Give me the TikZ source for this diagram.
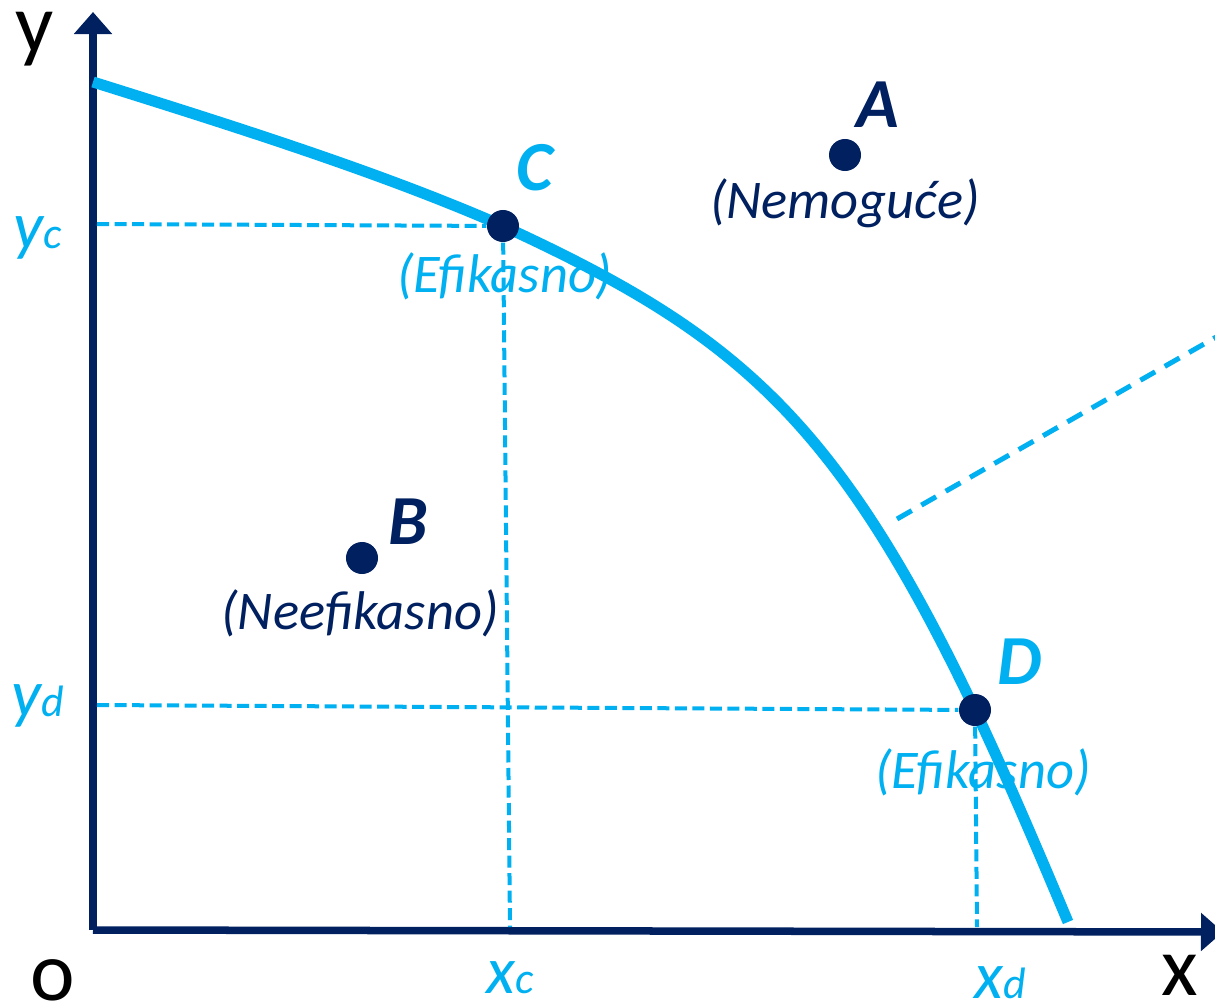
\documentclass[tikz,border=0pt]{standalone}
\usepackage{fontspec}
\setmainfont{Carlito}
\usepackage{tikz}
\usetikzlibrary{arrows.meta,positioning}
\definecolor{pnavy}{HTML}{002060}
\definecolor{pblue}{HTML}{00B0F0}
\tikzset{
  >={Triangle[width=3.7mm,length=2.2mm]},
  paxis/.style={pnavy, line width=0.75mm, ->},
  pcurve/.style={pblue, line width=1.1mm},
  pguide/.style={pblue, line width=0.4mm, dash pattern=on 1.2mm off 0.55mm},
  pslope/.style={pblue, line width=0.5mm, dash pattern=on 1.7mm off 1.1mm},
  pdot/.style={circle, fill=pnavy, minimum size=3.2mm, inner sep=0pt},
  pname/.style={font=\fontsize{20}{20}\selectfont\bfseries\itshape, inner sep=0pt},
  pnote/.style={font=\fontsize{15.5}{16}\selectfont\itshape, inner sep=0pt},
  pax/.style={font=\fontsize{24}{24}\selectfont, inner sep=0pt},
  ptick/.style={pblue, inner sep=0pt},
}
\newcommand{\ptick}[2]{{\fontsize{19}{19}\selectfont\itshape #1}{\fontsize{12.5}{12.5}\selectfont\itshape #2}}

\begin{document}
\begin{tikzpicture}[x=0.01cm,y=-0.01cm]
  \useasboundingbox (0,0) rectangle (1215,1006);

  % osi
  \coordinate (o) at (93,930);
  \coordinate (ytop) at (93,12);
  \coordinate (xend) at (1223,932);
  \draw[paxis] (o) -- (ytop);
  \draw[paxis] (o) -- (xend);
  \node[pax] (ly) at (35,39) {y};
  \node[pax] (lx) at (1180,975) {x};
  \node[pax] (lo) at (53,980) {o};

  % granica mogucnosti
  \coordinate (p0) at (93,82);
  \coordinate (pc) at (503,226);
  \coordinate (pd) at (975,710);
  \coordinate (p1) at (1068,922);
  \draw[pcurve] (p0) .. controls (230,125) and (380,172) .. (pc)
    .. controls (733,332) and (835,416) .. (pd)
    .. controls (1005,773) and (1040,855) .. (p1);

  % tacke
  \node[pdot] (C) at (pc) {};
  \node[pdot] (D) at (pd) {};
  \node[pdot] (A) at (845,155) {};
  \node[pdot] (B) at (362,558) {};

  % isprekidane linije
  \coordinate (yc) at (97,224);
  \coordinate (yd) at (97,705);
  \coordinate (xc) at (510,927);
  \coordinate (xd) at (977,927);
  \draw[pguide] (yc) -- (C);
  \draw[pguide] (C) -- (xc);
  \draw[pguide] (yd) -- (D);
  \draw[pguide] (D) -- (xd);
  \coordinate (s1) at (897,519);
  \coordinate (s2) at (1218,336);
  \draw[pslope] (s1) -- (s2);

  % oznake na osama
  \node[ptick] (tyc) at (38,238) {\ptick{y}{c}};
  \node[ptick] (tyd) at (38,706) {\ptick{y}{d}};
  \node[ptick] (txc) at (510,978) {\ptick{x}{c}};
  \node[ptick] (txd) at (1000,983) {\ptick{x}{d}};

  % natpisi
  \node[pname, pnavy] (lA) at (878,105) {A};
  \node[pnote, pnavy] (nA) at (845,203) {(Nemoguće)};
  \node[pname, pblue] (lC) at (535,168) {C};
  \node[pnote, pblue] (nC) at (505,276) {(Efikasno)};
  \node[pname, pnavy] (lB) at (408,522) {B};
  \node[pnote, pnavy] (nB) at (360,613) {(Neefikasno)};
  \node[pname, pblue] (lD) at (1020,662) {D};
  \node[pnote, pblue] (nD) at (983,772) {(Efikasno)};

\end{tikzpicture}
\end{document}
